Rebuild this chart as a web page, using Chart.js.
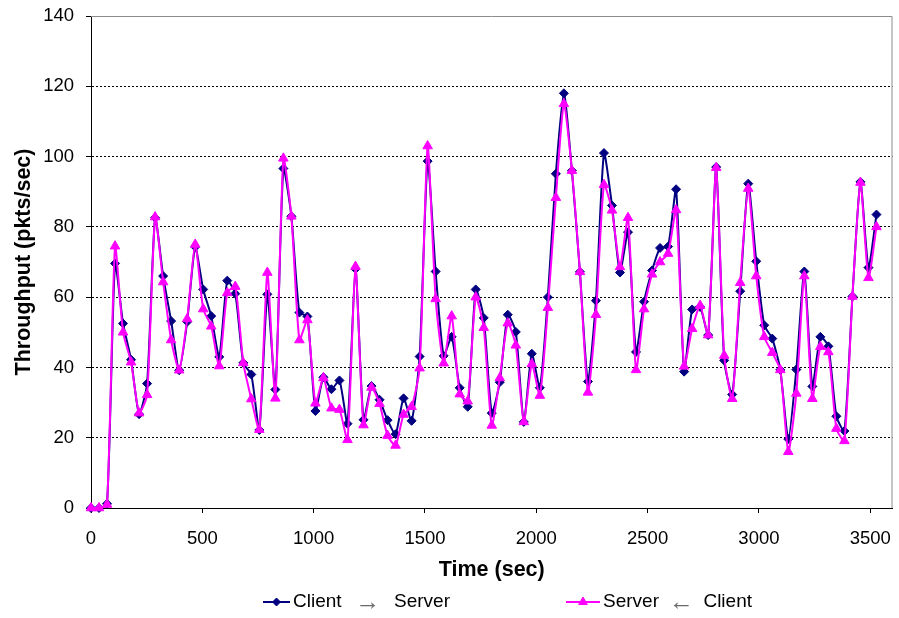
<!DOCTYPE html>
<html>
<head>
<meta charset="utf-8">
<script src="https://cdn.jsdelivr.net/npm/chart.js@4"></script>
<style>
  html, body { margin: 0; padding: 0; background: #fff; }
  #wrap { width: 899px; height: 618px; position: relative; }
</style>
</head>
<body>
<div id="wrap"><canvas id="c" width="899" height="618"></canvas></div>
<script>
// Sample times (sec)
const sampleTimes = [0,36,72,108,144,180,216,252,288,324,360,396,432,468,504,540,576,612,648,684,720,756,792,828,864,900,936,972,1008,1044,1080,1116,1152,1188,1224,1260,1296,1332,1368,1404,1440,1476,1512,1548,1584,1620,1656,1692,1728,1764,1800,1836,1872,1908,1944,1980,2016,2052,2088,2124,2160,2196,2232,2268,2304,2340,2376,2412,2448,2484,2520,2556,2592,2628,2664,2700,2736,2772,2808,2844,2880,2916,2952,2988,3024,3060,3096,3132,3168,3204,3240,3276,3312,3348,3384,3420,3456,3492,3528];

// Throughput, client -> server (pkts/sec)
const clientToServer = [0,0,1.2,69.6,52.5,42.2,26.7,35.4,82.6,66,53.2,39.2,53,74.3,62.2,54.6,43,64.7,61,41.3,38,22.2,60.8,33.7,96.6,83,55.6,54.5,27.6,37.2,33.8,36.3,24,68,25.1,34.7,30.8,25,21,31.2,24.8,43.1,98.7,67.3,43.3,48.7,34.2,28.8,62.2,54.1,27,35.8,55,50.1,24.5,43.9,34.2,60,95.1,118,96,67.2,36,59,101,86.1,67,78.5,44.4,58.7,67.6,74,74.4,90.7,38.8,56.5,57.2,49.2,97,42,32.3,61.7,92.3,70.2,52,48.2,39.3,19.6,39.4,67.3,34.6,48.7,46,26.1,21.9,60.2,92.8,68.4,83.5];

// Throughput, server <- client (pkts/sec)
const serverFromClient = [0,0,1,74.5,50,41.5,27,32.2,82.8,64.3,47.8,39.2,53.8,75,56.6,51.7,40.4,61.2,63,41.3,31,22.3,67,31.2,99.5,83,47.8,53.5,29.8,37,28.4,28,19.4,68.7,23.6,34.3,29.7,20.6,17.8,26.6,28.8,39.8,103,59.5,41.2,54.6,32.4,30.4,60,51.3,23.5,37,52.6,46.3,24.5,41,32,57,88.3,115,96,67.2,32.9,55,92,84.7,68.6,82.6,39.3,56.6,66.5,70,72.4,84.8,40.3,51,57.6,49.2,96.8,43.4,31.1,64.1,90.9,66,48.7,44.2,39.3,16,32.6,66,31.1,45.9,44.4,22.6,19.1,60.2,92.6,65.5,80];

// Axis tick values
const timeTicks = [0,500,1000,1500,2000,2500,3000,3500];
const throughputTicks = [0,20,40,60,80,100,120,140];

const seriesNames = ['Client', 'Server'];
const NAVY = '#000080';
const MAGENTA = '#FF00FF';
const FONT = "'Liberation Sans', Arial, sans-serif";

function toPoints(values) {
  return values.map((v, i) => ({ x: sampleTimes[i], y: v }));
}

// Frame around the plot area (top and right edges in grey)
const plotFrame = {
  id: 'plotFrame',
  beforeDatasetsDraw(chart) {
    const { ctx, chartArea: a } = chart;
    ctx.save();
    ctx.strokeStyle = '#8c8c8c';
    ctx.lineWidth = 1;
    ctx.beginPath();
    ctx.moveTo(a.left, a.top + 0.5);
    ctx.lineTo(a.right - 0.5, a.top + 0.5);
    ctx.lineTo(a.right - 0.5, a.bottom);
    ctx.stroke();
    ctx.restore();
  }
};

// Legend: line swatch with marker, then "A -> B" label with a light arrow
const bottomLegend = {
  id: 'bottomLegend',
  afterDraw(chart) {
    const { ctx } = chart;
    const y = 602;
    const items = [
      { ds: chart.data.datasets[0], x0: 263, x1: 290, end: 450, parts: [seriesNames[0], '\u2192', seriesNames[1]] },
      { ds: chart.data.datasets[1], x0: 566, x1: 600, end: 752, parts: [seriesNames[1], '\u2190', seriesNames[0]] }
    ];
    ctx.save();
    items.forEach(it => {
      const ds = it.ds;
      ctx.strokeStyle = ds.borderColor;
      ctx.lineWidth = 2;
      ctx.beginPath();
      ctx.moveTo(it.x0, y);
      ctx.lineTo(it.x1, y);
      ctx.stroke();
      ctx.fillStyle = ds.pointBackgroundColor;
      ctx.strokeStyle = ds.pointBorderColor;
      ctx.lineWidth = 1;
      Chart.helpers.drawPoint(ctx, {
        pointStyle: ds.pointStyle, radius: ds.pointRadius - 0.5, rotation: 0, borderWidth: 1
      }, (it.x0 + it.x1) / 2, y);

      ctx.textBaseline = 'middle';
      ctx.font = '19px ' + FONT;
      ctx.fillStyle = '#000';
      const x = it.x1 + 3;
      ctx.textAlign = 'left';
      ctx.fillText(it.parts[0], x, y);
      const firstEnd = x + ctx.measureText(it.parts[0]).width;
      ctx.textAlign = 'right';
      ctx.fillText(it.parts[2], it.end, y);
      const secondStart = it.end - ctx.measureText(it.parts[2]).width;
      ctx.font = '25px ' + FONT;
      ctx.fillStyle = '#6a6a6a';
      ctx.textAlign = 'center';
      ctx.fillText(it.parts[1], (firstEnd + secondStart) / 2, y + 1);
    });
    ctx.restore();
  }
};

new Chart(document.getElementById('c'), {
  type: 'line',
  data: {
    datasets: [
      {
        label: 'Client \u2192 Server',
        data: toPoints(clientToServer),
        borderColor: NAVY,
        backgroundColor: NAVY,
        pointBackgroundColor: NAVY,
        pointBorderColor: NAVY,
        pointStyle: 'rectRot',
        pointRadius: 4.5,
        pointBorderWidth: 1,
        borderWidth: 2,
        tension: 0.2,
        clip: false,
        order: 1
      },
      {
        label: 'Server \u2190 Client',
        data: toPoints(serverFromClient),
        borderColor: MAGENTA,
        backgroundColor: MAGENTA,
        pointBackgroundColor: MAGENTA,
        pointBorderColor: MAGENTA,
        pointStyle: 'triangle',
        pointRadius: 5.5,
        pointBorderWidth: 1,
        borderWidth: 2,
        tension: 0.2,
        clip: false,
        order: 0
      }
    ]
  },
  options: {
    responsive: false,
    animation: false,
    events: [],
    layout: { padding: { left: 0, right: 6, top: 16, bottom: 30 } },
    plugins: {
      legend: { display: false },
      tooltip: { enabled: false }
    },
    scales: {
      x: {
        type: 'linear',
        min: 0,
        max: 3600,
        afterBuildTicks(scale) { scale.ticks = timeTicks.map(v => ({ value: v })); },
        afterFit(scale) {
          scale.height = 80;
          scale.paddingLeft = 0;
          scale.paddingRight = 0;
        },
        ticks: {
          color: '#000',
          font: { family: FONT, size: 18.5 },
          padding: 15,
          maxRotation: 0,
          autoSkip: false,
          callback: v => String(v)
        },
        grid: {
          drawOnChartArea: false,
          drawTicks: true,
          tickLength: 5,
          tickColor: '#000'
        },
        border: { color: '#000', width: 1 },
        title: {
          display: true,
          text: 'Time (sec)',
          color: '#000',
          font: { family: FONT, size: 21.5, weight: 'bold' },
          padding: { top: 0, bottom: 5 }
        }
      },
      y: {
        min: 0,
        max: 140,
        afterBuildTicks(scale) { scale.ticks = throughputTicks.map(v => ({ value: v })); },
        afterFit(scale) {
          scale.width = 91;
          scale.paddingTop = 0;
          scale.paddingBottom = 0;
        },
        ticks: {
          color: '#000',
          font: { family: FONT, size: 18.5 },
          padding: 12,
          callback: v => String(v)
        },
        grid: {
          color: c => (c.tick && (c.tick.value === 0 || c.tick.value === 140)) ? 'rgba(0,0,0,0)' : '#000',
          lineWidth: 1,
          drawTicks: true,
          tickLength: 5,
          tickColor: '#000',
          tickBorderDash: []
        },
        border: { color: '#000', width: 1, dash: [2, 2] },
        title: {
          display: true,
          text: 'Throughput (pkts/sec)',
          color: '#000',
          font: { family: FONT, size: 21.5, weight: 'bold' },
          padding: { top: 11, bottom: 0 }
        }
      }
    }
  },
  plugins: [plotFrame, bottomLegend]
});
</script>
</body>
</html>
